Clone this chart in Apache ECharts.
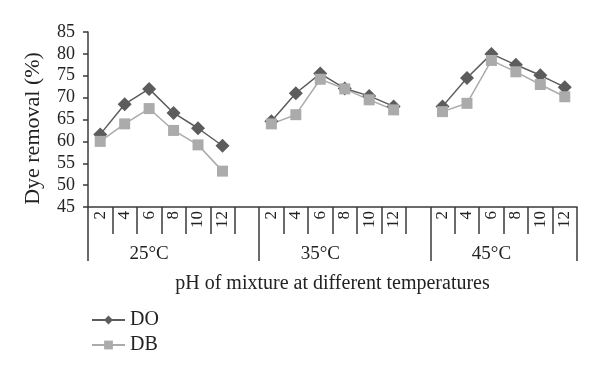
<!DOCTYPE html>
<html>
<head>
<meta charset="utf-8">
<script src="https://cdn.jsdelivr.net/npm/echarts@6/dist/echarts.min.js"></script>
<style>
  html, body { margin: 0; padding: 0; background: #fff; }
  #chart { width: 600px; height: 377px; }
</style>
</head>
<body>
<div id="chart"></div>
<script>
// pH labels, one blank slot between temperature groups
var phLabels = ['2', '4', '6', '8', '10', '12', '',
                '2', '4', '6', '8', '10', '12', '',
                '2', '4', '6', '8', '10', '12'];
var groupLabels = ['', '', '25°C', '', '', '', '',
                   '', '', '35°C', '', '', '', '',
                   '', '', '45°C', '', '', ''];
var groupStarts = [0, 7, 14];

var doValues = [61.6, 68.5, 72, 66.5, 63, 59, '-',
                64.6, 71, 75.5, 72.1, 70.4, 68, '-',
                68, 74.5, 80, 77.5, 75.1, 72.4];
var dbValues = [60, 64, 67.5, 62.5, 59.2, 53.2, '-',
                64, 66.1, 74.2, 72, 69.5, 67.2, '-',
                66.8, 68.7, 78.5, 75.9, 73, 70.2];

var font = 'Liberation Serif';
var axisColor = '#3a3a3a';

var chart = echarts.init(document.getElementById('chart'));
chart.setOption({
  animation: false,
  grid: {
    left: 88,
    right: 23,
    top: 32,
    bottom: 170
  },
  legend: {
    orient: 'vertical',
    left: 86,
    top: 305,
    itemWidth: 33,
    itemHeight: 11,
    itemGap: 5,
    textStyle: { fontFamily: font, fontSize: 20, color: '#222' },
    data: ['DO', 'DB']
  },
  xAxis: [
    {
      type: 'category',
      data: phLabels,
      axisLine: { lineStyle: { color: axisColor, width: 1.5 } },
      axisTick: { show: true, interval: 0, length: 27, lineStyle: { color: axisColor, width: 1.5 } },
      axisLabel: {
        interval: 0,
        rotate: 90,
        margin: 4,
        fontFamily: font,
        fontSize: 17,
        color: '#222'
      }
    },
    {
      type: 'category',
      position: 'bottom',
      data: groupLabels,
      axisLine: { show: false },
      axisTick: {
        show: true,
        length: 54,
        lineStyle: { color: axisColor, width: 1.5 },
        interval: function (i) { return groupStarts.indexOf(i) >= 0; }
      },
      axisLabel: {
        interval: 0,
        margin: 38,
        fontFamily: font,
        fontSize: 19,
        color: '#222'
      },
      name: 'pH of mixture at different temperatures',
      nameLocation: 'middle',
      nameGap: 67,
      nameTextStyle: { fontFamily: font, fontSize: 20, color: '#222' }
    }
  ],
  yAxis: {
    type: 'value',
    min: 45,
    max: 85,
    interval: 5,
    splitLine: { show: false },
    axisLine: { show: true, lineStyle: { color: axisColor, width: 1.5 } },
    axisTick: { show: true, length: 5, lineStyle: { color: axisColor, width: 1.5 } },
    axisLabel: { fontFamily: font, fontSize: 18, color: '#222', margin: 13 },
    name: 'Dye removal (%)',
    nameLocation: 'middle',
    nameGap: 44,
    nameTextStyle: { fontFamily: font, fontSize: 22, color: '#222', padding: [0, 18, 0, 0] }
  },
  series: [
    {
      name: 'DO',
      type: 'line',
      data: doValues,
      symbol: 'diamond',
      symbolSize: 14,
      color: '#5c5c5c',
      lineStyle: { width: 1.5, color: '#5c5c5c' },
      itemStyle: { color: '#5c5c5c' }
    },
    {
      name: 'DB',
      type: 'line',
      data: dbValues,
      symbol: 'rect',
      symbolSize: 11,
      color: '#ababab',
      lineStyle: { width: 1.5, color: '#ababab' },
      itemStyle: { color: '#ababab' }
    }
  ]
});
</script>
</body>
</html>
